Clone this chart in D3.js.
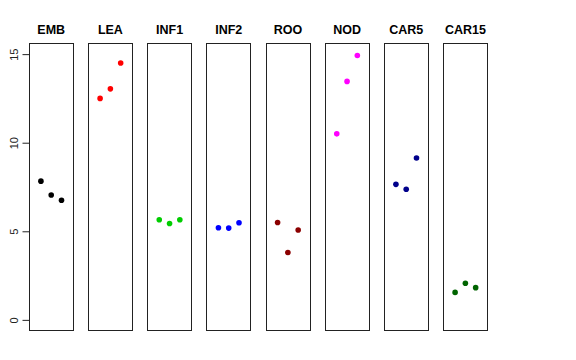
<!DOCTYPE html>
<html><head><meta charset="utf-8">
<script src="https://cdn.jsdelivr.net/npm/d3@7"></script>
<style>body{margin:0;background:#fff}svg{display:block}</style>
</head><body>
<svg id="chart" width="576" height="360"></svg>
<script>
const categories = ["EMB","LEA","INF1","INF2","ROO","NOD","CAR5","CAR15"];
const colors = ["#000000","#FF0000","#00CD00","#0000FF","#8B0000","#FF00FF","#00008B","#006400"];
const replicate = [1,2,3];
const values = [
  [7.83, 7.05, 6.75],
  [12.5, 13.04, 14.5],
  [5.65, 5.44, 5.65],
  [5.2, 5.18, 5.48],
  [5.5, 3.8, 5.07],
  [10.5, 13.46, 14.92],
  [7.65, 7.37, 9.14],
  [1.55, 2.07, 1.82]
];
const yTicks = [0,5,10,15];

(function () {
const svg = d3.select("#chart");
const panelTop = 43.5, panelBottom = 330.5;
const y = d3.scaleLinear().domain([-0.6, 15.6]).range([panelBottom, panelTop]);
const band = d3.scaleBand().domain(categories).range([29, 487.6]).paddingInner(0.249);

categories.forEach((c, i) => {
  const x0 = band(c), w = band.bandwidth();
  const x = d3.scaleLinear().domain([-0.16, 4.16]).range([x0, x0 + w]);
  const g = svg.append("g");
  g.append("rect")
    .attr("x", Math.round(x0) + 0.5).attr("y", panelTop)
    .attr("width", Math.round(w)).attr("height", panelBottom - panelTop)
    .attr("fill", "none").attr("stroke", "#222").attr("stroke-width", 1);
  g.append("text")
    .attr("x", x0 + w / 2).attr("y", 34)
    .attr("text-anchor", "middle")
    .attr("font-family", "Liberation Sans, Arial, sans-serif")
    .attr("font-weight", "bold").attr("font-size", 12.5)
    .text(c);
  g.selectAll("circle").data(values[i]).enter().append("circle")
    .attr("cx", (d, j) => x(replicate[j]))
    .attr("cy", d => y(d))
    .attr("r", 2.8)
    .attr("fill", colors[i]);
});

const axis = d3.axisLeft(y).tickValues(yTicks).tickSize(7).tickPadding(4).tickFormat(d3.format("d"));
const ag = svg.append("g").attr("transform", `translate(${Math.round(band(categories[0])) + 0.5},0)`).call(axis);
ag.select(".domain").attr("d", `M0,${y(0)}V${y(15)}`).attr("stroke", "#222");
ag.selectAll(".tick line").attr("stroke", "#222");
ag.selectAll(".tick text")
  .attr("font-family", "Liberation Sans, Arial, sans-serif")
  .attr("font-size", 11).attr("fill", "#222")
  .attr("transform", "rotate(-90)")
  .attr("x", 0).attr("y", -15)
  .attr("dy", "0.35em")
  .attr("text-anchor", "middle");
})();
</script>
</body></html>
